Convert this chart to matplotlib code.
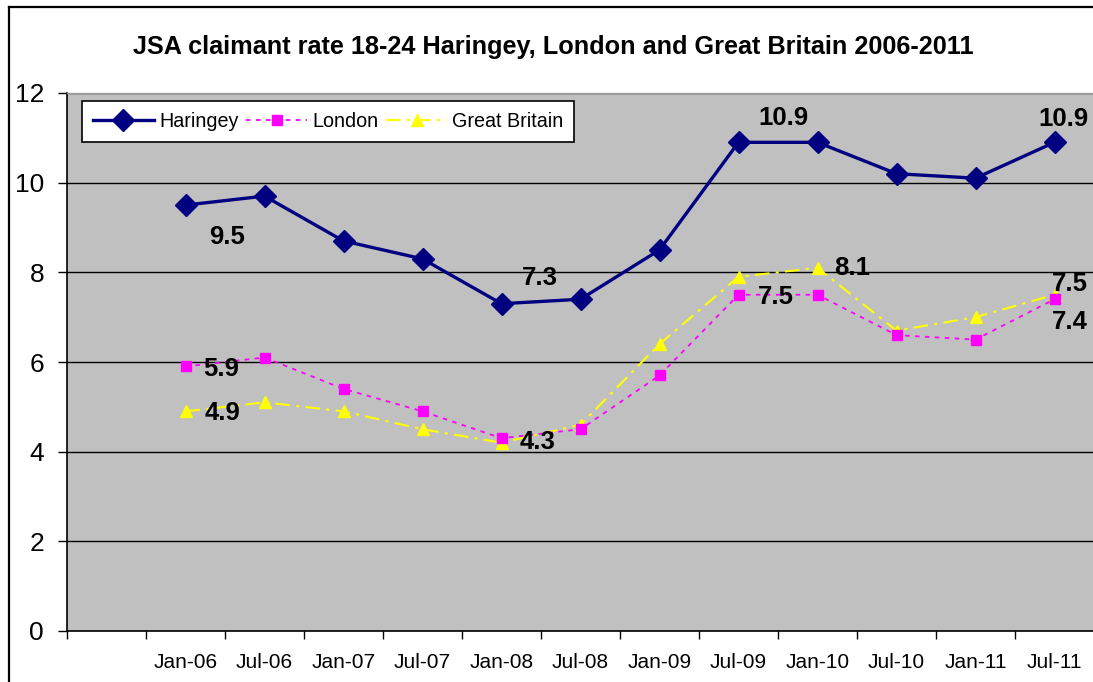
import matplotlib
matplotlib.use("Agg")
import matplotlib.pyplot as plt
from matplotlib.lines import Line2D

# ── Data ───────────────────────────────────────────────────────────────────────
months = ["", "Jan-06", "Jul-06", "Jan-07", "Jul-07", "Jan-08", "Jul-08",
          "Jan-09", "Jul-09", "Jan-10", "Jul-10", "Jan-11", "Jul-11"]

haringey = [9.5, 9.7, 8.7, 8.3, 7.3, 7.4, 8.5, 10.9, 10.9, 10.2, 10.1, 10.9]
london   = [5.9, 6.1, 5.4, 4.9, 4.3, 4.5, 5.7, 7.5, 7.5, 6.6, 6.5, 7.4]
gb       = [4.9, 5.1, 4.9, 4.5, 4.2, 4.6, 6.4, 7.9, 8.1, 6.7, 7.0, 7.5]

# point labels: (series, month index into data, text, offset in px)
labels = [
    ("haringey", 0, "9.5", (42, -32)),
    ("haringey", 4, "7.3", (38, 26)),
    ("haringey", 7, "10.9", (45, 24)),
    ("haringey", 11, "10.9", (9, 23)),
    ("london", 0, "5.9", (36, -3)),
    ("gb", 0, "4.9", (37, -2)),
    ("london", 4, "4.3", (36, -4)),
    ("london", 7, "7.5", (37, -2)),
    ("gb", 8, "8.1", (35, 0)),
    ("gb", 11, "7.5", (15, 11)),
    ("london", 11, "7.4", (15, -23)),
]

# ── Style ──────────────────────────────────────────────────────────────────────
NAVY    = "#000080"
MAGENTA = "#FF00FF"
YELLOW  = "#FFFF00"
PLOTBG  = "#C0C0C0"
PX = 72 / 100  # points per pixel at dpi 100

plt.rcParams["font.family"] = ["Liberation Sans", "DejaVu Sans"]

fig = plt.figure(figsize=(10.93, 6.82), dpi=100, facecolor="white")
ax = fig.add_axes([67 / 1093, 51 / 682, 1027 / 1093, 538 / 682])
ax.set_facecolor(PLOTBG)

xs = list(range(1, len(months)))
series = {"haringey": haringey, "london": london, "gb": gb}

ax.plot(xs, haringey, color=NAVY, lw=2.4, marker="D", ms=11,
        label="Haringey", zorder=5)
ax.plot(xs, london, color=MAGENTA, lw=1.3, ls=(0, (2.5, 3)), marker="s",
        ms=7, label="London", zorder=4)
ax.plot(xs, gb, color=YELLOW, lw=1.5, ls=(0, (7, 3, 1.5, 3)), marker="^",
        ms=9, label="Great Britain", zorder=3)

for name, i, txt, (dx, dy) in labels:
    ax.annotate(txt, xy=(xs[i], series[name][i]),
                xytext=(dx * PX, dy * PX), textcoords="offset points",
                ha="center", va="center", fontsize=18.5, fontweight="bold",
                color="black", zorder=6)

# ── Axes ───────────────────────────────────────────────────────────────────────
ax.set_xlim(-0.5, len(months) - 0.5)
ax.set_ylim(0, 12)
ax.set_yticks(range(0, 13, 2))
ax.yaxis.grid(True, color="black", lw=1)
ax.set_axisbelow(True)
ax.tick_params(axis="y", direction="out", length=6.5, width=1,
               labelsize=19, pad=10)

ax.set_xticks([i - 0.5 for i in range(len(months) + 1)])
ax.set_xticklabels([])
ax.set_xticks(range(len(months)), minor=True)
ax.set_xticklabels(months, minor=True)
ax.tick_params(axis="x", which="major", direction="out", length=6, width=1)
ax.tick_params(axis="x", which="minor", length=0, labelsize=15, pad=16)

for s in ["left", "bottom"]:
    ax.spines[s].set_color("black")
    ax.spines[s].set_linewidth(1.2)
for s in ["top", "right"]:
    ax.spines[s].set_color("#A0A0A0")
    ax.spines[s].set_linewidth(1)

# ── Legend ─────────────────────────────────────────────────────────────────────
leg = ax.legend(loc="upper left", bbox_to_anchor=(15 / 1027, 1 - 8 / 538),
                ncol=3, fontsize=14.2, frameon=True, fancybox=False,
                edgecolor="black", facecolor="white", framealpha=1,
                handlelength=3.1, handletextpad=0.25, columnspacing=0.4,
                borderpad=0.55, borderaxespad=0)
leg.get_frame().set_linewidth(1.2)

# ── Title + chart border ───────────────────────────────────────────────────────
fig.text(553 / 1093, 1 - 47 / 682,
         "JSA claimant rate 18-24 Haringey, London and Great Britain 2006-2011",
         ha="center", va="center", fontsize=18.2, fontweight="bold")
fig.add_artist(Line2D([8.5 / 1093, 8.5 / 1093], [0, 1 - 7 / 682],
                      color="black", lw=1.6, transform=fig.transFigure))
fig.add_artist(Line2D([8.5 / 1093, 1], [1 - 7 / 682, 1 - 7 / 682],
                      color="black", lw=1.6, transform=fig.transFigure))

fig.savefig("out.png", dpi=100, facecolor="white")
